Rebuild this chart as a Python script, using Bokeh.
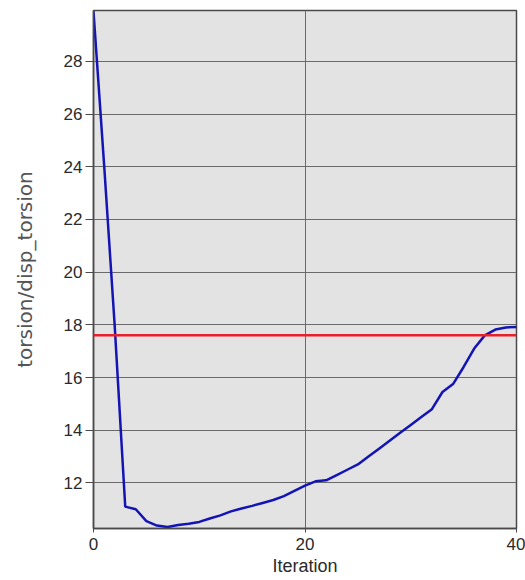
from bokeh.plotting import figure
from bokeh.models import Range1d, Span, FixedTicker
from bokeh.embed import file_html
from bokeh.resources import INLINE

# Objective value per optimisation iteration
iterations = list(range(41))
torsion = [
    29.9, 24.1, 18.0, 11.1, 11.0, 10.55, 10.38, 10.33, 10.4, 10.45,
    10.52, 10.65, 10.77, 10.92, 11.03, 11.13, 11.24, 11.35, 11.5, 11.7,
    11.9, 12.06, 12.1, 12.3, 12.5, 12.7, 13.0, 13.3, 13.6, 13.9,
    14.2, 14.5, 14.8, 15.45, 15.75, 16.4, 17.1, 17.6, 17.82, 17.9,
    17.92,
]
target = 17.6

x_ticks = [0, 20, 40]
y_ticks = [12, 14, 16, 18, 20, 22, 24, 26, 28]

TICK_FONT = "Liberation Sans"

p = figure(
    width=525, height=580,
    output_backend="svg", toolbar_location=None,
    x_range=Range1d(0, 40), y_range=Range1d(10.27, 29.93),
    min_border_left=93, min_border_right=9,
    min_border_top=10, min_border_bottom=52,
    background_fill_color="#e3e3e3", border_fill_color="white",
    outline_line_color="#4a4a4a", outline_line_width=1.5,
)

p.line(iterations, torsion, line_color="#1414b4", line_width=2.5)
p.add_layout(Span(location=target, dimension="width",
                  line_color="#e8202a", line_width=2.5))

p.xaxis.ticker = FixedTicker(ticks=x_ticks)
p.yaxis.ticker = FixedTicker(ticks=y_ticks)
p.xaxis.minor_tick_line_color = None
p.yaxis.minor_tick_line_color = None

for g in (p.xgrid, p.ygrid):
    g.grid_line_color = "#6a6a6a"
    g.grid_line_width = 1

for ax in (p.xaxis, p.yaxis):
    ax.axis_line_color = "#4a4a4a"
    ax.axis_line_width = 1.5
    ax.major_tick_line_color = "#4a4a4a"
    ax.major_tick_in = 0
    ax.major_label_text_font = TICK_FONT
    ax.major_label_text_color = "#2a2a2a"
    ax.major_label_text_font_size = "17px"

p.xaxis.major_tick_out = 4
p.xaxis.major_label_standoff = 5
p.xaxis.axis_label = "Iteration"
p.xaxis.axis_label_text_font = TICK_FONT
p.xaxis.axis_label_text_font_size = "18px"
p.xaxis.axis_label_text_font_style = "normal"
p.xaxis.axis_label_text_color = "#2a2a2a"
p.xaxis.axis_label_standoff = 3

p.yaxis.major_tick_out = 8
p.yaxis.major_label_standoff = 3
p.yaxis.axis_label = "torsion/disp_torsion"
p.yaxis.axis_label_text_font = "DejaVu Sans"
p.yaxis.axis_label_text_font_size = "20px"
p.yaxis.axis_label_text_font_style = "normal"
p.yaxis.axis_label_text_color = "#555555"
p.yaxis.axis_label_standoff = 24

open("out.html", "w").write(file_html(p, INLINE))
